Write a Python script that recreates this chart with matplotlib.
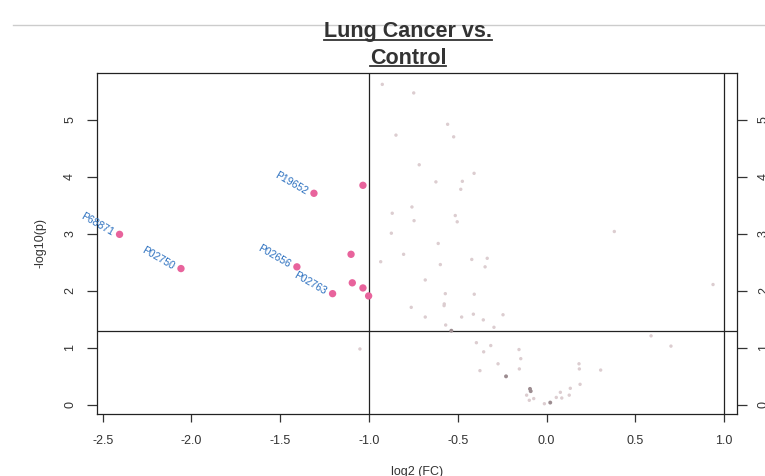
import numpy as np
import matplotlib.pyplot as plt
from matplotlib.lines import Line2D

# significant proteins (pink)
sig_fc = [-2.405, -2.059, -1.31, -1.034, -1.406, -1.101, -1.205, -1.094, -1.034, -1.002]
sig_p = [2.99, 2.39, 3.71, 3.85, 2.42, 2.64, 1.95, 2.14, 2.05, 1.91]

labels = ['P68871', 'P02750', 'P19652', 'P02656', 'P02763']
label_fc = [-2.405, -2.059, -1.31, -1.406, -1.205]
label_p = [2.99, 2.39, 3.71, 2.42, 1.95]

# non significant proteins (light)
ns_fc = [-0.925, -0.748, -0.557, -0.848, -0.523, -0.717, -0.408, -0.623, -0.474, -0.483,
         -0.758, -0.869, -0.514, -0.746, -0.503, 0.382, -0.874, -0.610, -0.805, -0.934,
         -0.421, -0.334, -0.598, -0.346, -0.683, -0.570, -0.407, -0.576, -0.577, -0.762,
         -0.683, -0.478, -0.412, -0.356, -0.245, -0.568, -0.296, -0.395, -0.314, -0.354,
         -0.155, -0.145, -0.273, -0.153, -0.375, 0.183, 0.185, 0.305, 0.589, 0.701,
         -0.112, -0.097, -0.072, -0.012, 0.055, 0.086, 0.078, 0.128, 0.134, 0.189,
         0.938, -1.051]
ns_p = [5.62, 5.47, 4.92, 4.73, 4.70, 4.21, 4.06, 3.91, 3.92, 3.78,
        3.47, 3.36, 3.32, 3.23, 3.21, 3.04, 3.01, 2.83, 2.64, 2.51,
        2.55, 2.57, 2.46, 2.42, 2.19, 1.95, 1.94, 1.77, 1.74, 1.71,
        1.54, 1.54, 1.59, 1.49, 1.58, 1.40, 1.36, 1.09, 1.04, 0.93,
        0.97, 0.81, 0.72, 0.63, 0.60, 0.72, 0.63, 0.61, 1.21, 1.03,
        0.17, 0.08, 0.11, 0.02, 0.13, 0.12, 0.22, 0.17, 0.29, 0.36,
        2.11, 0.98]

# overlapping points look darker
dark_fc = [-0.536, -0.228, -0.093, -0.089, 0.021]
dark_p = [1.30, 0.50, 0.28, 0.24, 0.04]

fc_cut = 1.0
p_cut = -np.log10(0.05)

plt.rcParams['font.family'] = ['Liberation Sans', 'DejaVu Sans']
plt.rcParams['axes.unicode_minus'] = False
txt_col = '#333333'

fig = plt.figure(figsize=(7.65, 4.76), dpi=100)
ax = fig.add_axes([0.1268, 0.1303, 0.8366, 0.7164])

ax.scatter(ns_fc, ns_p, s=6, color='#dccdd0', edgecolors='none', zorder=2)
ax.scatter(dark_fc, dark_p, s=8, color='#9c8c90', edgecolors='none', zorder=2)
ax.scatter(sig_fc, sig_p, s=28, color='#e8639c', edgecolors='none', zorder=3)

for lab, x, y in zip(labels, label_fc, label_p):
    ax.annotate(lab, (x, y), xytext=(-5, 1), textcoords='offset points',
                rotation=-30, rotation_mode='anchor', ha='right', va='center',
                fontsize=7.5, color='#2a6fbf')

ax.axvline(-fc_cut, color='#222222', lw=0.9, zorder=1)
ax.axvline(fc_cut, color='#222222', lw=0.9, zorder=1)
ax.axhline(p_cut, color='#222222', lw=0.9, zorder=1)

ax.set_xlim(-2.532, 1.073)
ax.set_ylim(-0.16, 5.82)
ax.set_xticks([-2.5, -2.0, -1.5, -1.0, -0.5, 0.0, 0.5, 1.0])
ax.set_yticks([0, 1, 2, 3, 4, 5])
ax.tick_params(axis='x', length=6, width=0.9, pad=9, labelsize=9, colors=txt_col)
ax.tick_params(axis='y', length=7, width=0.9, pad=8, labelsize=9, colors=txt_col,
               right=True, labelright=True, labelrotation=90)
for lbl in ax.get_yticklabels():
    lbl.set_va('center')
for s in ax.spines.values():
    s.set_linewidth(0.9)
    s.set_color('#222222')

ax.set_xlabel('log2 (FC)', fontsize=9, color=txt_col, labelpad=14)
ax.set_ylabel('-log10(p)', fontsize=9, color=txt_col, labelpad=13)

# gray separator line on top of the page
fig.add_artist(Line2D([0.017, 1.0], [1 - 25 / 476, 1 - 25 / 476], color='#cccccc', lw=1))

# underlined title, two lines
titles = []
for line, ypix in [('Lung Cancer vs.', 32), ('Control', 58)]:
    t = fig.text(408 / 765, 1 - ypix / 476, line, ha='center', va='center',
                 fontsize=15.5, fontweight='bold', color=txt_col,
                 family=['Liberation Sans Narrow', 'Liberation Sans'])
    titles.append(t)

fig.canvas.draw()
r = fig.canvas.get_renderer()
for t in titles:
    bb = t.get_window_extent(r).transformed(fig.transFigure.inverted())
    yl = bb.y0 + 0.1 * bb.height
    fig.add_artist(Line2D([bb.x0, bb.x1], [yl, yl], color=txt_col, lw=1.3))

fig.savefig('out.png', dpi=100)
